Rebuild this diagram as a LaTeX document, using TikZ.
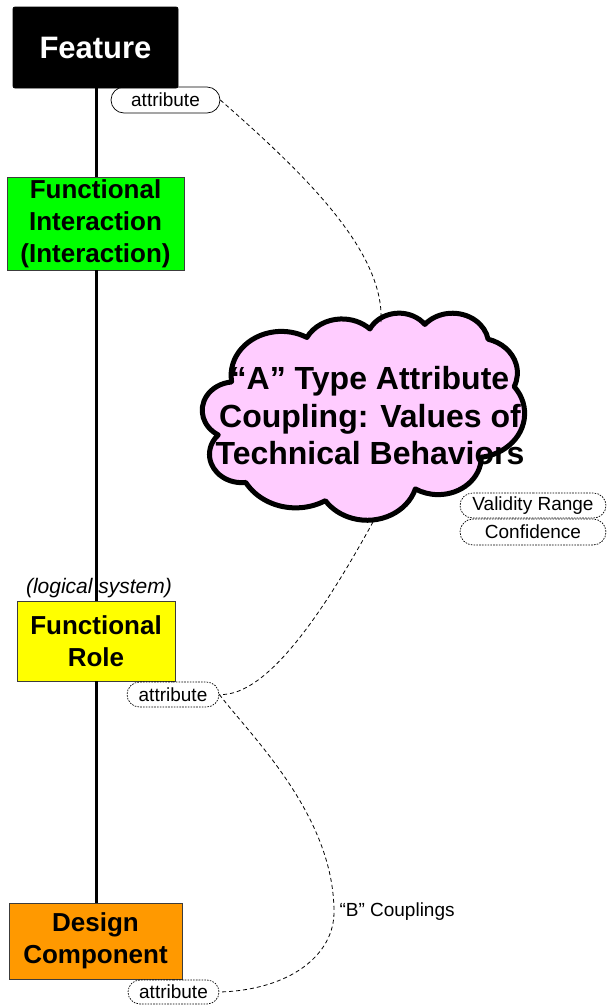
\documentclass[tikz,border=0pt]{standalone}
\usepackage{fontspec}
\setmainfont{Liberation Sans}
\usetikzlibrary{shapes.misc}

\definecolor{fgreen}{RGB}{0,255,0}
\definecolor{fyellow}{RGB}{255,255,0}
\definecolor{forange}{RGB}{255,153,0}
\definecolor{cloudpink}{RGB}{255,204,255}
\definecolor{boxedge}{RGB}{60,60,60}

\tikzset{
  levelbox/.style={rectangle, draw=boxedge, line width=0.8pt, align=center,
    inner sep=0pt, font=\bfseries\fontsize{26}{32}\selectfont},
  pill/.style={rounded rectangle, draw=black, line width=0.7pt, inner sep=0pt,
    font=\fontsize{19}{22}\selectfont},
  dottedpill/.style={pill, dash pattern=on 1.6pt off 1.2pt},
  coupling/.style={line width=0.8pt, dash pattern=on 4pt off 3pt},
  spine/.style={line width=3pt},
  % one elliptic lobe of the cloud: x radius, y radius, start and sweep
  % given as angles of the ray from the ellipse centre
  lobe/.style n args={4}{x radius=#1, y radius=#2,
    start angle={atan2(#1*sin(#3),#2*cos(#3))},
    delta angle={mod(atan2(#1*sin(#3+#4),#2*cos(#3+#4))-atan2(#1*sin(#3),#2*cos(#3))+720,360)}},
}

\begin{document}
\begin{tikzpicture}[x=1pt,y=-1pt]
\useasboundingbox (0,0) rectangle (606,1005);

% hierarchy boxes
\node[levelbox, fill=black, draw=black, text=white, rounded corners=2pt,
      minimum width=165, minimum height=81,
      font=\bfseries\fontsize{31}{36}\selectfont] (feat) at (95.5,47.5) {Feature};
\node[levelbox, fill=fgreen, minimum width=177, minimum height=93] (fi) at (95.5,223.5)
  {Functional\\Interaction\\(Interaction)};
\node[levelbox, fill=fyellow, minimum width=158, minimum height=80] (fr) at (96,641)
  {Functional\\Role};
\node[levelbox, fill=forange, minimum width=173, minimum height=76] (dc) at (95.5,941)
  {Design\\Component};

% spine joining the levels
\draw[spine] (feat.south -| 96,0) -- (96,0 |- fi.north);
\draw[spine] (fi.south -| 96,0) -- (96,0 |- fr.north);
\draw[spine] (fr.south -| 96,0) -- (96,0 |- dc.north);

\node[font=\itshape\fontsize{21}{24}\selectfont] (logsys) at (99,588) {(logical system)};

% attribute tags
\node[pill, minimum width=109, minimum height=26] (attr1) at (165.5,100) {attribute};
\node[dottedpill, minimum width=92, minimum height=25] (attr2) at (173,694.5) {attribute};
\node[dottedpill, minimum width=91, minimum height=24] (attr3) at (173.5,992) {attribute};

% cloud outline, laid out on a 432 x 432 grid stretched over its box
\begin{scope}[shift={(202.5,312.5)}, x=0.745370pt, y=-0.479167pt]
  \draw[line width=5pt, line join=round, fill=cloudpink]
    (39,143.7)
    arc[lobe={67.53}{91.90}{-190.487}{123.781}]
    arc[lobe={53.33}{72.67}{-144.102}{89.945}]
    arc[lobe={43.65}{59.45}{-145.808}{99.723}]
    arc[lobe={48.57}{65.95}{-130.986}{117.242}]
    arc[lobe={53.33}{72.73}{-78.709}{109.027}]
    arc[lobe={67.75}{92.20}{-46.267}{130.269}]
    arc[lobe={57.85}{78.67}{0.625}{114.033}]
    arc[lobe={67.52}{92.15}{22.452}{115.173}]
    arc[lobe={77.20}{105.43}{66.243}{75.711}]
    arc[lobe={43.60}{59.18}{-274.942}{146.736}]
    arc[lobe={43.45}{59.45}{-246.829}{152.519}]
    -- cycle;
\end{scope}
\node[align=center, font=\bfseries\fontsize{32}{37.5}\selectfont] (cloudtext) at (370,416)
  {“A” Type Attribute\\Coupling: Values of\\Technical Behaviors};

\node[dottedpill, minimum width=146, minimum height=25] (valid) at (533,505.5) {Validity Range};
\node[dottedpill, minimum width=146, minimum height=26] (conf) at (533,532) {Confidence};

% coupling connectors
\coordinate (ctop) at (381,322);
\coordinate (cbot) at (373,522);
\coordinate (bmid) at (334,912);
\draw[coupling] (attr1.east) .. controls (300,170) and (385,250) .. (ctop);
\draw[coupling] (cbot) .. controls (330,600) and (270,697) .. (attr2.east);
\draw[coupling] (attr2.east) .. controls (250,735) and (334,815) .. (bmid)
  .. controls (334,955) and (290,990) .. (attr3.east);

\node[anchor=west, font=\fontsize{19}{22}\selectfont] (blabel) at (336,912) {“B” Couplings};
\end{tikzpicture}
\end{document}
